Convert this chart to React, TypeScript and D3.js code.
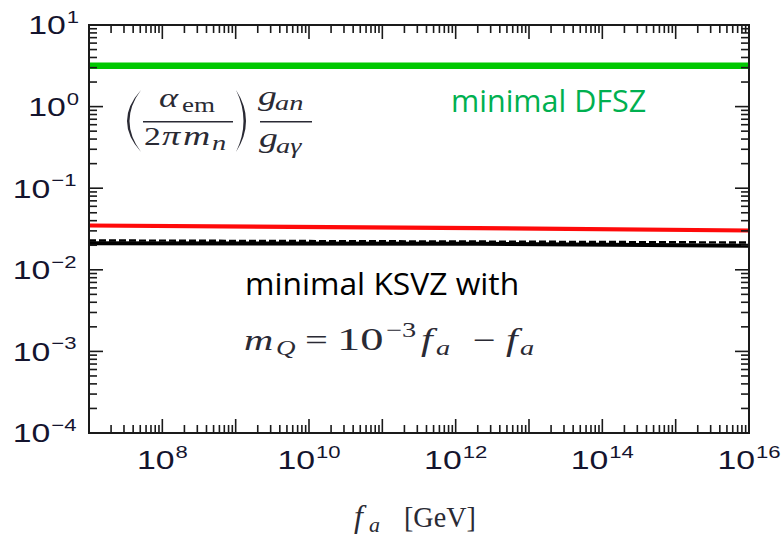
import React from "react";
import * as d3 from "d3";

// f_a sample points (GeV) and the coupling ratio for each model
const FA_GRID = [1e7, 2e12, 1e16];
const DFSZ_RATIO = [3.17, 3.17, 3.17];
const KSVZ_RED = [3.49e-2, 3.24e-2, 3.03e-2];
const KSVZ_DASHED = [2.29e-2, 2.22e-2, 2.16e-2];
const KSVZ_SOLID = [2.12e-2, 2.08e-2, 1.97e-2];

// axis ranges and labelled exponents
const X_DOMAIN = [1e7, 1e16];
const Y_DOMAIN = [1e-4, 1e1];
const X_LABEL_EXP = [8, 10, 12, 14, 16];
const Y_LABEL_EXP = [1, 0, -1, -2, -3, -4];

const W = 781;
const H = 537;
const M = { left: 89, right: 749, top: 25, bottom: 433 };

const SANS = "Liberation Sans, Arial, sans-serif";
const SERIF = "Liberation Serif, serif";
const LABEL_SANS = "Open Sans, Noto Sans, sans-serif";
const TICK_COLOR = "#14142e";
const MATH_COLOR = "#2a2a34";

// tick label glyph metrics (Liberation Sans advance widths, em units)
const TICK_FS = 26;
const SUP_FS = 17;
const STRETCH = 1.3;
const glyphW = (s: string) =>
  Array.from(s).reduce((a, c) => a + (c === "\u2212" ? 0.7 : 0.556), 0);

function logTicks(min: number, max: number) {
  const out: { v: number; major: boolean }[] = [];
  const lo = Math.round(Math.log10(min));
  const hi = Math.round(Math.log10(max));
  for (let e = lo; e <= hi; e++) {
    out.push({ v: Math.pow(10, e), major: true });
    if (e < hi) for (let k = 2; k <= 9; k++) out.push({ v: k * Math.pow(10, e), major: false });
  }
  return out;
}

const fmtExp = (e: number) => (e < 0 ? "\u2212" + Math.abs(e) : String(e));

// power-of-ten label: "10" with a raised exponent, left edge at x0, baseline at y0
function Pow10({ x0, y0, e }: { x0: number; y0: number; e: number }) {
  const baseW = 1.112 * TICK_FS * STRETCH;
  const exp = fmtExp(e);
  return (
    <g fontFamily={SANS} fill={TICK_COLOR}>
      <text transform={`translate(${x0},${y0}) scale(${STRETCH},1)`} fontSize={TICK_FS}>
        10
      </text>
      <text
        transform={`translate(${x0 + baseW + 1},${y0 - 11.3}) scale(${STRETCH},1)`}
        fontSize={SUP_FS}
      >
        {exp}
      </text>
    </g>
  );
}
const pow10Width = (e: number) =>
  1.112 * TICK_FS * STRETCH + 1 + glyphW(fmtExp(e)) * SUP_FS * STRETCH;

// a single math glyph run, stretched horizontally like the rest of the figure
function MathRun({
  x0,
  y0,
  size,
  italic,
  sx = 1.35,
  children,
}: {
  x0: number;
  y0: number;
  size: number;
  italic?: boolean;
  sx?: number;
  children: React.ReactNode;
}) {
  return (
    <text
      transform={`translate(${x0},${y0}) scale(${sx},1)`}
      fontSize={size}
      fontStyle={italic ? "italic" : "normal"}
    >
      {children}
    </text>
  );
}

export default function App() {
  const x = d3.scaleLog().domain(X_DOMAIN).range([M.left, M.right]);
  const y = d3.scaleLog().domain(Y_DOMAIN).range([M.bottom, M.top]);

  const line = d3
    .line<[number, number]>()
    .x((d) => x(d[0]))
    .y((d) => y(d[1]));
  const path = (vals: number[]) =>
    line(FA_GRID.map((f, i) => [f, vals[i]] as [number, number])) || "";

  const xTicks = logTicks(X_DOMAIN[0], X_DOMAIN[1]);
  const yTicks = logTicks(Y_DOMAIN[0], Y_DOMAIN[1]);
  const MAJ = 14;
  const MIN = 8;

  return (
    <svg
      width={W}
      height={H}
      viewBox={`0 0 ${W} ${H}`}
      style={{ position: "absolute", left: 0, top: 0, background: "#fff" }}
    >
      <defs>
        <clipPath id="plot-area">
          <rect x={M.left} y={M.top} width={M.right - M.left} height={M.bottom - M.top} />
        </clipPath>
      </defs>
      <rect width={W} height={H} fill="#fff" />

      {/* model curves */}
      <g clipPath="url(#plot-area)" fill="none">
        <path d={path(DFSZ_RATIO)} stroke="#00c800" strokeWidth={6.5} />
        <path d={path(KSVZ_RED)} stroke="#ff0a0a" strokeWidth={4.2} />
        <path d={path(KSVZ_SOLID)} stroke="#000" strokeWidth={4} />
        <path d={path(KSVZ_DASHED)} stroke="#000" strokeWidth={2.4} strokeDasharray="7,3" />
      </g>

      {/* frame and inward ticks on all four sides */}
      <g stroke="#1a1a1a" strokeWidth={1.6}>
        {xTicks.map((t, i) => {
          const px = x(t.v);
          const len = t.major ? MAJ : MIN;
          return (
            <g key={"xt" + i}>
              <line x1={px} x2={px} y1={M.bottom} y2={M.bottom - len} />
              <line x1={px} x2={px} y1={M.top} y2={M.top + len} />
            </g>
          );
        })}
        {yTicks.map((t, i) => {
          const py = y(t.v);
          const len = t.major ? MAJ : MIN;
          return (
            <g key={"yt" + i}>
              <line x1={M.left} x2={M.left + len} y1={py} y2={py} />
              <line x1={M.right} x2={M.right - len} y1={py} y2={py} />
            </g>
          );
        })}
        <rect
          x={M.left}
          y={M.top}
          width={M.right - M.left}
          height={M.bottom - M.top}
          fill="none"
          strokeWidth={2}
        />
      </g>

      {/* y tick labels, right-aligned */}
      {Y_LABEL_EXP.map((e) => (
        <Pow10 key={"yl" + e} e={e} x0={79 - pow10Width(e)} y0={y(Math.pow(10, e)) + 9.3} />
      ))}

      {/* x tick labels, centred on the decade */}
      {X_LABEL_EXP.map((e) => (
        <Pow10 key={"xl" + e} e={e} x0={x(Math.pow(10, e)) - pow10Width(e) / 2} y0={469} />
      ))}

      {/* x axis title */}
      <g fontFamily={SERIF} fill={MATH_COLOR}>
        <MathRun x0={354} y0={527} size={32} italic sx={1}>f</MathRun>
        <MathRun x0={369} y0={532} size={22} italic sx={1}>a</MathRun>
        <MathRun x0={404} y0={527} size={29} sx={0.97}>[GeV]</MathRun>
      </g>

      {/* ratio formula */}
      <g fontFamily={SERIF} fill={MATH_COLOR}>
        <path d="M141,90 Q113,121 141,152 Q118,121 141,90 Z" />
        <path d="M236,90 Q256,121 236,152 Q251,121 236,90 Z" />
        <MathRun x0={159} y0={107} size={27} italic>α</MathRun>
        <MathRun x0={182} y0={112} size={20}>em</MathRun>
        <line x1={143} x2={233} y1={121.7} y2={121.7} stroke={MATH_COLOR} strokeWidth={1.5} />
        <MathRun x0={144} y0={145} size={25}>2</MathRun>
        <MathRun x0={162} y0={145} size={27} italic>π</MathRun>
        <MathRun x0={183} y0={145} size={28} italic>m</MathRun>
        <MathRun x0={212} y0={150} size={21} italic>n</MathRun>
        <MathRun x0={258} y0={105} size={28} italic>g</MathRun>
        <MathRun x0={275} y0={110} size={21} italic>an</MathRun>
        <line x1={260} x2={312} y1={121.7} y2={121.7} stroke={MATH_COLOR} strokeWidth={1.5} />
        <MathRun x0={259} y0={147} size={28} italic>g</MathRun>
        <MathRun x0={276} y0={153} size={21} italic>aγ</MathRun>
      </g>

      {/* annotations */}
      <text x={451} y={112} fontFamily={LABEL_SANS} fontSize={30.5} fill="#00b050">
        minimal DFSZ
      </text>
      <text x={245} y={295} fontFamily={LABEL_SANS} fontSize={31.8} fill="#000">
        minimal KSVZ with
      </text>

      {/* mass relation formula */}
      <g fontFamily={SERIF} fill={MATH_COLOR}>
        <MathRun x0={244} y0={350} size={30} italic>m</MathRun>
        <MathRun x0={276} y0={355} size={20} italic>Q</MathRun>
        <MathRun x0={305} y0={350} size={30}>=</MathRun>
        <MathRun x0={337} y0={350} size={31} sx={1.5}>10</MathRun>
        <MathRun x0={386} y0={337} size={21}>−3</MathRun>
        <MathRun x0={421} y0={350} size={31} italic>f</MathRun>
        <MathRun x0={436} y0={355} size={21} italic>a</MathRun>
        <MathRun x0={473} y0={350} size={30}>−</MathRun>
        <MathRun x0={506} y0={350} size={31} italic>f</MathRun>
        <MathRun x0={520} y0={355} size={21} italic>a</MathRun>
      </g>
    </svg>
  );
}
